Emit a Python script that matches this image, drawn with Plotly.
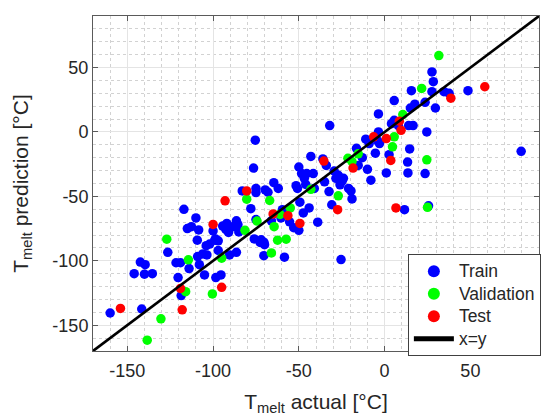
import plotly.graph_objects as go

# ---------------- data ----------------
series_names = ["Train", "Validation", "Test", "x=y"]

train_actual = [-160, -141.6, -146, -142.4, -139.6, -140, -135.4, -126.4, -121.6, -119,
                -120.4, -118.6, -117, -115, -114, -112.6, -110, -109.2, -108.4, -109,
                -108, -106, -105, -104, -103.6, -102, -100, -98.6, -98.4, -97,
                -97, -95.4, -94.4, -92.6, -92, -91, -90.4, -88.4, -86.4, -85,
                -86.4, -83, -78, -76.4, -75.4, -75, -75, -76, -75, -72,
                -70.4, -70, -70.4, -69.6, -68, -66, -64.6, -62, -60.4, -59.6,
                -58.4, -55.4, -53, -51.6, -50.8, -50, -49.4, -50, -48.4, -47.4,
                -46.8, -46, -45.4, -44, -43, -41.6, -41, -39, -36, -35,
                -34, -32.4, -32, -30.8, -29.4, -28.4, -27, -26, -25.4, -24.8,
                -24, -21, -19.6, -19, -16.4, -15.4, -13, -11, -10, -9,
                -8, -5.4, -4, -3.6, -3.6, -3, 1, 2.6, 4, 5.6,
                5.6, 8, 11.6, 13.4, 13.6, 14.6, 14, 15.6, 15, 16.6,
                17.6, 23.6, 23.6, 24.6, 25.6, 27.6, 28.4, 27.6, 29.6, 34.6,
                37.6, 48.6, 79.6, -72.6, -99, -85.5]
train_pred = [-140.5, -137.4, -110, -101, -103, -110.4, -110, -93.4, -101.5, -101.5,
              -113, -127, -60, -75, -106, -73.5, -66.7, -84, -76, -96.7,
              -103, -94.7, -111, -88.3, -95.4, -87, -76.8, -83, -113, -84.5,
              -92, -111, -73, -75.6, -71, -78, -95.4, -73.5, -69, -77.6,
              -93.4, -45.8, -59.5, -28, -6.4, -43.8, -47, -83, -68, -83.7,
              -85.5, -87.5, -96, -45, -46.8, -69, -39.4, -43.8, -66.7, -60.3,
              -97.2, -69.7, -74.3, -41.7, -43.8, -27.2, -54.5, -76.3, -32.3, -62.8,
              -36, -40.7, -32.3, -59, -19, -32.3, -43.8, -70, -20.9, -38.7,
              -26, -46.3, 5, -56.5, -30.3, -36, -33.6, -41, -99, -38.2,
              -36, -43.8, -45.8, -52, -12.7, -26, -20, -5.6, -29, -9,
              -37.4, -16.5, -6.9, 14, 0, -9, -31.8, -17.6, 6.4, 24.4,
              9, 5, -60.3, -23.4, -31.8, -13.2, 5, 32, 18.6, 5,
              21.6, -32.3, 23, 0, -57.3, 46.6, 39, 31.3, 18.6, 31.3,
              30, 32, -15, -85.8, -84, -72]

val_actual = [-138.4, -130.4, -127, -114.4, -116, -100.4, -95, -81.4, -80.4, -74.4,
              -67, -66, -64.4, -62.4, -61, -57.4, -55, -43, -27, -21.4,
              -19, -15.4, 4.6, 5.6, 10.6, 21.6, 24.6, 25, 31.6]
val_pred = [-161.6, -145, -83.2, -99.2, -124, -125.7, -98, -76.3, -52.2, -69.2,
            -53.2, -93.9, -73.5, -84, -64, -83.2, -59, -44.5, -49.6, -20.4,
            -23, -17, -11.5, -3.8, 13.5, 33.8, -21.6, -58.5, 59.3]

test_actual = [-154, -119, -118, -100, -95, -93, -80.4, -65, -56.4, -49.4,
               -35.4, -27.4, -18.4, -6.4, 1, 3.6, 6.6, 8.6, 9.6, 38.6, 58.4]
test_pred = [-137, -121.4, -138, -71.8, -120.6, -53.4, -45.8, -63.6, -65, -71,
             -22.6, -60.3, -28, -3.8, -5.1, -22.1, -59, 8.4, 1.3, 26.2, 35.1]

diag_range = [-170, 90]
axis_range = [-170, 90]
tick_vals = [-150, -100, -50, 0, 50]
tick_text = ["-150", "-100", "-50", "0", "50"]

FONT = "Liberation Sans, Arial, Helvetica, sans-serif"
TXT = "#262626"


def leg(name):
    # legend label drawn at 17.5px while rows are spaced for a smaller font
    return f'<span style="font-size:17.5px">{name}</span>'


fig = go.Figure()
fig.add_trace(go.Scatter(x=train_actual, y=train_pred, mode="markers", name=leg(series_names[0]),
                         marker=dict(color="#0000FF", size=9.5, line=dict(width=0))))
fig.add_trace(go.Scatter(x=val_actual, y=val_pred, mode="markers", name=leg(series_names[1]),
                         marker=dict(color="#00FF00", size=9.5, line=dict(width=0))))
fig.add_trace(go.Scatter(x=test_actual, y=test_pred, mode="markers", name=leg(series_names[2]),
                         marker=dict(color="#FF0000", size=9.5, line=dict(width=0))))
fig.add_trace(go.Scatter(x=diag_range, y=diag_range, mode="lines", name=leg(series_names[3]),
                         line=dict(color="black", width=2.6)))

axis_common = dict(
    range=axis_range, tickvals=tick_vals, ticktext=tick_text,
    showgrid=True, gridcolor="#e4e4e4", gridwidth=1,
    minor=dict(dtick=10, showgrid=True, gridcolor="#d2d2d2", griddash="dot", gridwidth=1),
    showline=True, linecolor="#5a5a5a", linewidth=1, mirror="ticks",
    ticks="inside", ticklen=5, tickcolor="#5a5a5a",
    zeroline=False, tickfont=dict(family=FONT, size=18, color=TXT),
)

fig.update_layout(
    width=541, height=416,
    margin=dict(l=93, r=0, t=16, b=61),
    paper_bgcolor="white", plot_bgcolor="white",
    font=dict(family=FONT, color=TXT),
    xaxis=dict(**axis_common, ticklabelstandoff=3,
               title=dict(text="T<sub>melt</sub> actual [°C]",
                          font=dict(family=FONT, size=21, color=TXT), standoff=21)),
    yaxis=dict(**axis_common,
               title=dict(text="T<sub>melt</sub> prediction [°C]",
                          font=dict(family=FONT, size=21, color=TXT), standoff=18)),
    legend=dict(x=0.706, y=-0.015, xanchor="left", yanchor="bottom",
                bgcolor="white", bordercolor="#404040", borderwidth=1,
                font=dict(family=FONT, size=15, color=TXT),
                itemsizing="constant", itemwidth=40, tracegroupgap=0),
    showlegend=True,
)

fig.write_html("out.html",
               config={"displayModeBar": False},
               post_script="document.body.style.margin='0';document.body.style.overflow='hidden';")
